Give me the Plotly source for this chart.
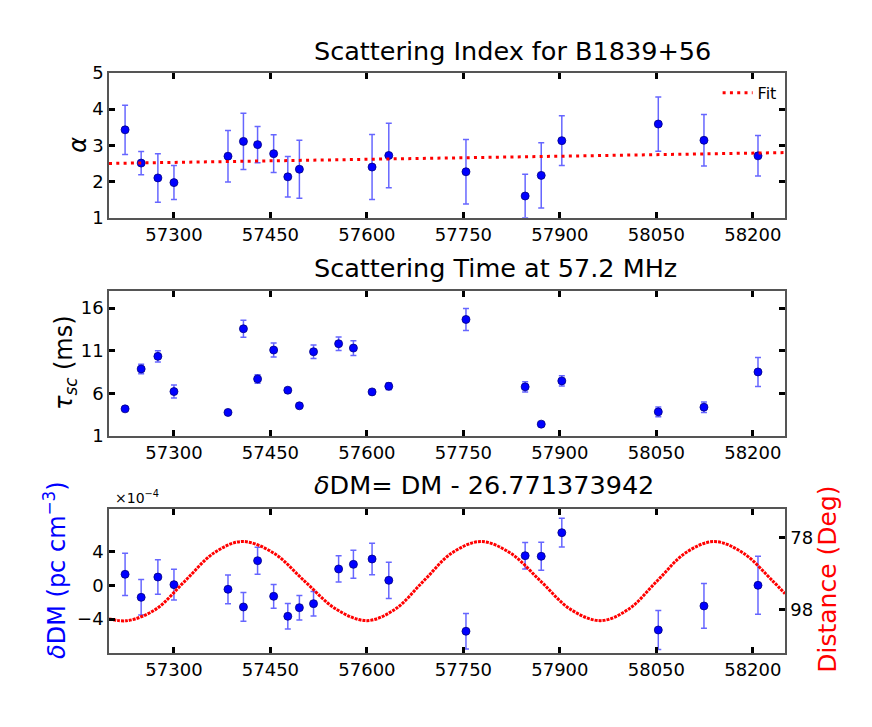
import plotly.graph_objects as go
from plotly.subplots import make_subplots

# MJD de cada observacion
mjd = [57224, 57249, 57275, 57300, 57384, 57408, 57430, 57455, 57477, 57495, 57517,
       57556, 57579, 57608, 57634, 57754, 57846, 57871, 57903, 58053, 58124, 58208]

# indice de scattering (sin valor en tres epocas)
alpha = [3.43, 2.51, 2.10, 1.97, 2.70, 3.11, 3.02, 2.77, 2.13, 2.34, None,
         None, None, 2.40, 2.72, 2.27, 1.60, 2.17, 3.13, 3.59, 3.14, 2.71]
alpha_err = [0.68, 0.32, 0.67, 0.47, 0.71, 0.78, 0.50, 0.52, 0.56, 0.80, None,
             None, None, 0.90, 0.89, 0.89, 0.60, 0.90, 0.69, 0.75, 0.71, 0.56]
fit_mjd = [57199, 58250]
fit_alpha = [2.50, 2.80]

# tiempo de scattering (ms)
tau = [4.19, 8.87, 10.35, 6.22, 3.77, 13.58, 7.70, 11.09, 6.38, 4.55, 10.89,
       11.83, 11.32, 6.18, 6.84, 14.67, 6.77, 2.40, 7.47, 3.84, 4.39, 8.52]
tau_err = [0.15, 0.55, 0.66, 0.76, 0.15, 1.00, 0.50, 0.82, 0.30, 0.12, 0.80,
           0.80, 0.87, 0.20, 0.40, 1.30, 0.60, 0.15, 0.60, 0.57, 0.62, 1.70]

# delta DM en unidades de 1e-4 pc cm^-3
ddm = [1.30, -1.42, 0.98, 0.08, -0.47, -2.56, 2.91, -1.30, -3.66, -2.64, -2.17,
       1.93, 2.48, 3.11, 0.59, -5.43, 3.50, 3.43, 6.22, -5.28, -2.44, 0.00]
ddm_err = [2.50, 2.10, 2.05, 1.83, 1.70, 1.70, 1.60, 1.40, 1.50, 1.45, 1.45,
           1.55, 1.65, 1.85, 2.15, 2.10, 1.57, 1.65, 1.70, 2.30, 2.64, 3.43]

# distancia angular al Sol (grados)
curve_mjd = [57199, 57228, 57272, 57317, 57362, 57406, 57455, 57503, 57552, 57600,
             57644, 57688, 57732, 57777, 57823, 57870, 57916, 57963, 58007, 58051,
             58095, 58140, 58185, 58231, 58250]
curve_deg = [100.5, 101.0, 97.8, 90.0, 82.2, 79.0, 82.2, 90.0, 97.8, 101.0,
             97.8, 90.0, 82.2, 79.0, 82.2, 90.0, 97.8, 101.0, 97.8, 90.0,
             82.2, 79.0, 82.2, 90.0, 93.5]

x_ticks = [57300, 57450, 57600, 57750, 57900, 58050, 58200]
x_range = [57199, 58250]

FONT = "DejaVu Sans"
err_style = dict(type="data", color="rgba(0,0,255,0.6)", thickness=1.5, width=3)
mk = dict(color="blue", size=8, line=dict(color="#000080", width=0.8))

fig = make_subplots(rows=3, cols=1, specs=[[{}], [{}], [{"secondary_y": True}]])

fig.add_trace(go.Scatter(x=mjd, y=alpha, mode="markers", marker=mk,
                         error_y=dict(array=alpha_err, **err_style), showlegend=False),
              row=1, col=1)
fig.add_trace(go.Scatter(x=fit_mjd, y=fit_alpha, mode="lines", name="Fit",
                         line=dict(color="red", width=3, dash="3px,4.3px")),
              row=1, col=1)
fig.add_trace(go.Scatter(x=mjd, y=tau, mode="markers", marker=mk,
                         error_y=dict(array=tau_err, **err_style), showlegend=False),
              row=2, col=1)
fig.add_trace(go.Scatter(x=curve_mjd, y=curve_deg, mode="lines", showlegend=False,
                         line=dict(color="red", width=3, dash="3px,1px", shape="spline")),
              row=3, col=1, secondary_y=True)
fig.add_trace(go.Scatter(x=mjd, y=ddm, mode="markers", marker=mk,
                         error_y=dict(array=ddm_err, **err_style), showlegend=False),
              row=3, col=1, secondary_y=False)

ax = dict(showline=True, linecolor="#555555", linewidth=1.5, showgrid=False,
          zeroline=False, ticks="inside", ticklen=6, tickwidth=2.5, tickcolor="black",
          tickfont=dict(family=FONT, size=18, color="black"))

for r in (1, 2, 3):
    fig.update_xaxes(ax, range=x_range, tickvals=x_ticks, tickformat="d",
                     mirror="ticks", domain=[0, 1], row=r, col=1)

fig.update_yaxes(ax, range=[1, 5], tickvals=[1, 2, 3, 4, 5], mirror="ticks", row=1, col=1)
fig.update_yaxes(ax, range=[1, 18], tickvals=[1, 6, 11, 16], mirror="ticks", row=2, col=1)
fig.update_yaxes(ax, range=[-8, 9], tickvals=[-4, 0, 4], ticktext=["\u22124", "0", "4"],
                 mirror=True, row=3, col=1, secondary_y=False)
fig.update_yaxes(ax, range=[110, 70], tickvals=[78, 98], row=3, col=1, secondary_y=True)

# dominios segun la posicion de cada panel
fig.update_layout(
    yaxis=dict(domain=[0.7505, 1.0]),
    yaxis2=dict(domain=[0.374, 0.624]),
    yaxis3=dict(domain=[0.0, 0.248]),
    yaxis4=dict(domain=[0.0, 0.248]),
)

ann = [
    dict(text="Scattering Index for B1839+56", x=0.300, y=1.0384, size=25.5),
    dict(text="Scattering Time at 57.2 MHz", x=0.300, y=0.6638, size=25.5),
    dict(text="<i>\u03b4</i>DM= DM - 26.771373942", x=0.300, y=0.2897, size=25.5),
]
annotations = [dict(text=a["text"], x=a["x"], y=a["y"], xref="paper", yref="paper",
                    xanchor="left", yanchor="middle", showarrow=False,
                    font=dict(family=FONT, size=a["size"], color="black")) for a in ann]

annotations += [
    dict(text="<i>\u03b1</i>", x=-0.046, y=0.876, textangle=-90,
         font=dict(family=FONT, size=24, color="black")),
    dict(text="<i>\u03c4<sub>sc</sub></i> (ms)", x=-0.065, y=0.5, textangle=-90,
         font=dict(family=FONT, size=24, color="black")),
    dict(text="<i>\u03b4</i>DM (pc cm<sup>\u22123</sup>)", x=-0.080, y=0.143, textangle=-90,
         font=dict(family=FONT, size=24, color="blue")),
    dict(text="Distance (Deg)", x=1.0636, y=0.128, textangle=-90,
         font=dict(family=FONT, size=25, color="red")),
    dict(text="\u00d710<sup>\u22124</sup>", x=0.006, y=0.269, xanchor="left",
         font=dict(family=FONT, size=14, color="black")),
]
for a in annotations[3:]:
    a.update(xref="paper", yref="paper", showarrow=False)
    a.setdefault("xanchor", "center")
    a.setdefault("yanchor", "middle")

# la pagina deja 8px de margen en el body: se descuenta aqui
fig.update_layout(
    width=864, height=719,
    margin=dict(l=101, r=87, t=65, b=74),
    plot_bgcolor="white", paper_bgcolor="white",
    font=dict(family=FONT, color="black"),
    annotations=annotations,
    showlegend=True,
    legend=dict(x=0.995, y=0.995, xanchor="right", yanchor="top",
                bgcolor="rgba(0,0,0,0)", font=dict(family=FONT, size=16)),
)

fig.write_html("out.html")
